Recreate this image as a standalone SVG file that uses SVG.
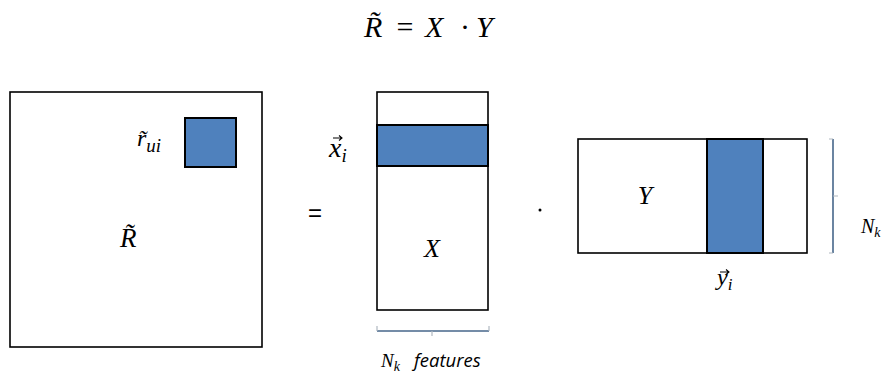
<svg xmlns="http://www.w3.org/2000/svg" width="885" height="376" viewBox="0 0 885 376">
<style>
.box{fill:#fff;stroke:#000;stroke-width:1.6}
.blue{fill:#4f81bd;stroke:#000;stroke-width:2}
.m{font-family:"Liberation Serif","DejaVu Serif",serif;font-style:italic;fill:#000}
.n{font-family:"Liberation Serif","DejaVu Serif",serif;fill:#000}
.s{font-family:"Open Sans","Liberation Sans",sans-serif;font-style:italic;fill:#000}
.br{fill:none;stroke:#46668a;stroke-width:1.6}
.tk{fill:none;stroke:#b0b8c0;stroke-width:1.2}
.acc{fill:none;stroke:#000;stroke-width:1.1}
</style>
<rect width="885" height="376" fill="#fff"/>
<g id="title">
<text class="m" x="364" y="37" font-size="30">R̃</text>
<text class="n" x="405" y="37" font-size="30" text-anchor="middle">=</text>
<text class="m" x="425" y="37" font-size="30">X</text>
<text class="n" x="465" y="37" font-size="30" text-anchor="middle">·</text>
<text class="m" x="476" y="37" font-size="30">Y</text>
</g>
<g id="R">
<rect class="box" x="10" y="92" width="252" height="255"/>
<rect class="blue" x="185" y="118" width="51" height="49"/>
<text class="m" x="137" y="146" font-size="24">r̃<tspan font-size="19" dy="6">ui</tspan></text>
<text class="m" x="120" y="247" font-size="27">R̃</text>
</g>
<g id="eq"><text x="315" y="221" font-family="Liberation Sans,sans-serif" font-size="24" text-anchor="middle">=</text></g>
<g id="X">
<rect class="box" x="377" y="92" width="111" height="218"/>
<rect class="blue" x="377" y="125" width="111" height="41"/>
<path class="acc" d="M333 138 H342 M339 135.5 L342 138 L339 140.5"/>
<text class="m" x="329" y="157" font-size="28">x<tspan font-size="19" dy="5">i</tspan></text>
<text class="m" x="432" y="257" font-size="26" text-anchor="middle">X</text>
</g>
<g id="dot"><circle cx="540" cy="210" r="1.5" fill="#000"/></g>
<g id="Y">
<rect class="box" x="578" y="139" width="229" height="114"/>
<rect class="blue" x="707" y="139" width="56" height="114"/>
<text class="m" x="645" y="204" font-size="26" text-anchor="middle">Y</text>
<path class="acc" d="M720 272 H729 M726 269.5 L729 272 L726 274.5"/>
<text class="m" x="717" y="285" font-size="24">y<tspan font-size="17" dy="5">i</tspan></text>
</g>
<g id="connectors">
<path class="br" d="M377 331 H489"/>
<path class="tk" d="M377 326 V331 M489 326 V331 M432 331 V336"/>
<path class="br" d="M833 139 V253"/>
<path class="tk" d="M829 139 H833 M829 253 H833 M833 196 H838"/>
</g>
<g id="labels">
<text class="m" x="381" y="367" font-size="19">N<tspan font-size="14" dy="4">k</tspan></text>
<text class="s" x="414" y="367" font-size="18.5">features</text>
<text class="m" x="861" y="233" font-size="20">N<tspan font-size="14" dy="4">k</tspan></text>
</g>
</svg>
